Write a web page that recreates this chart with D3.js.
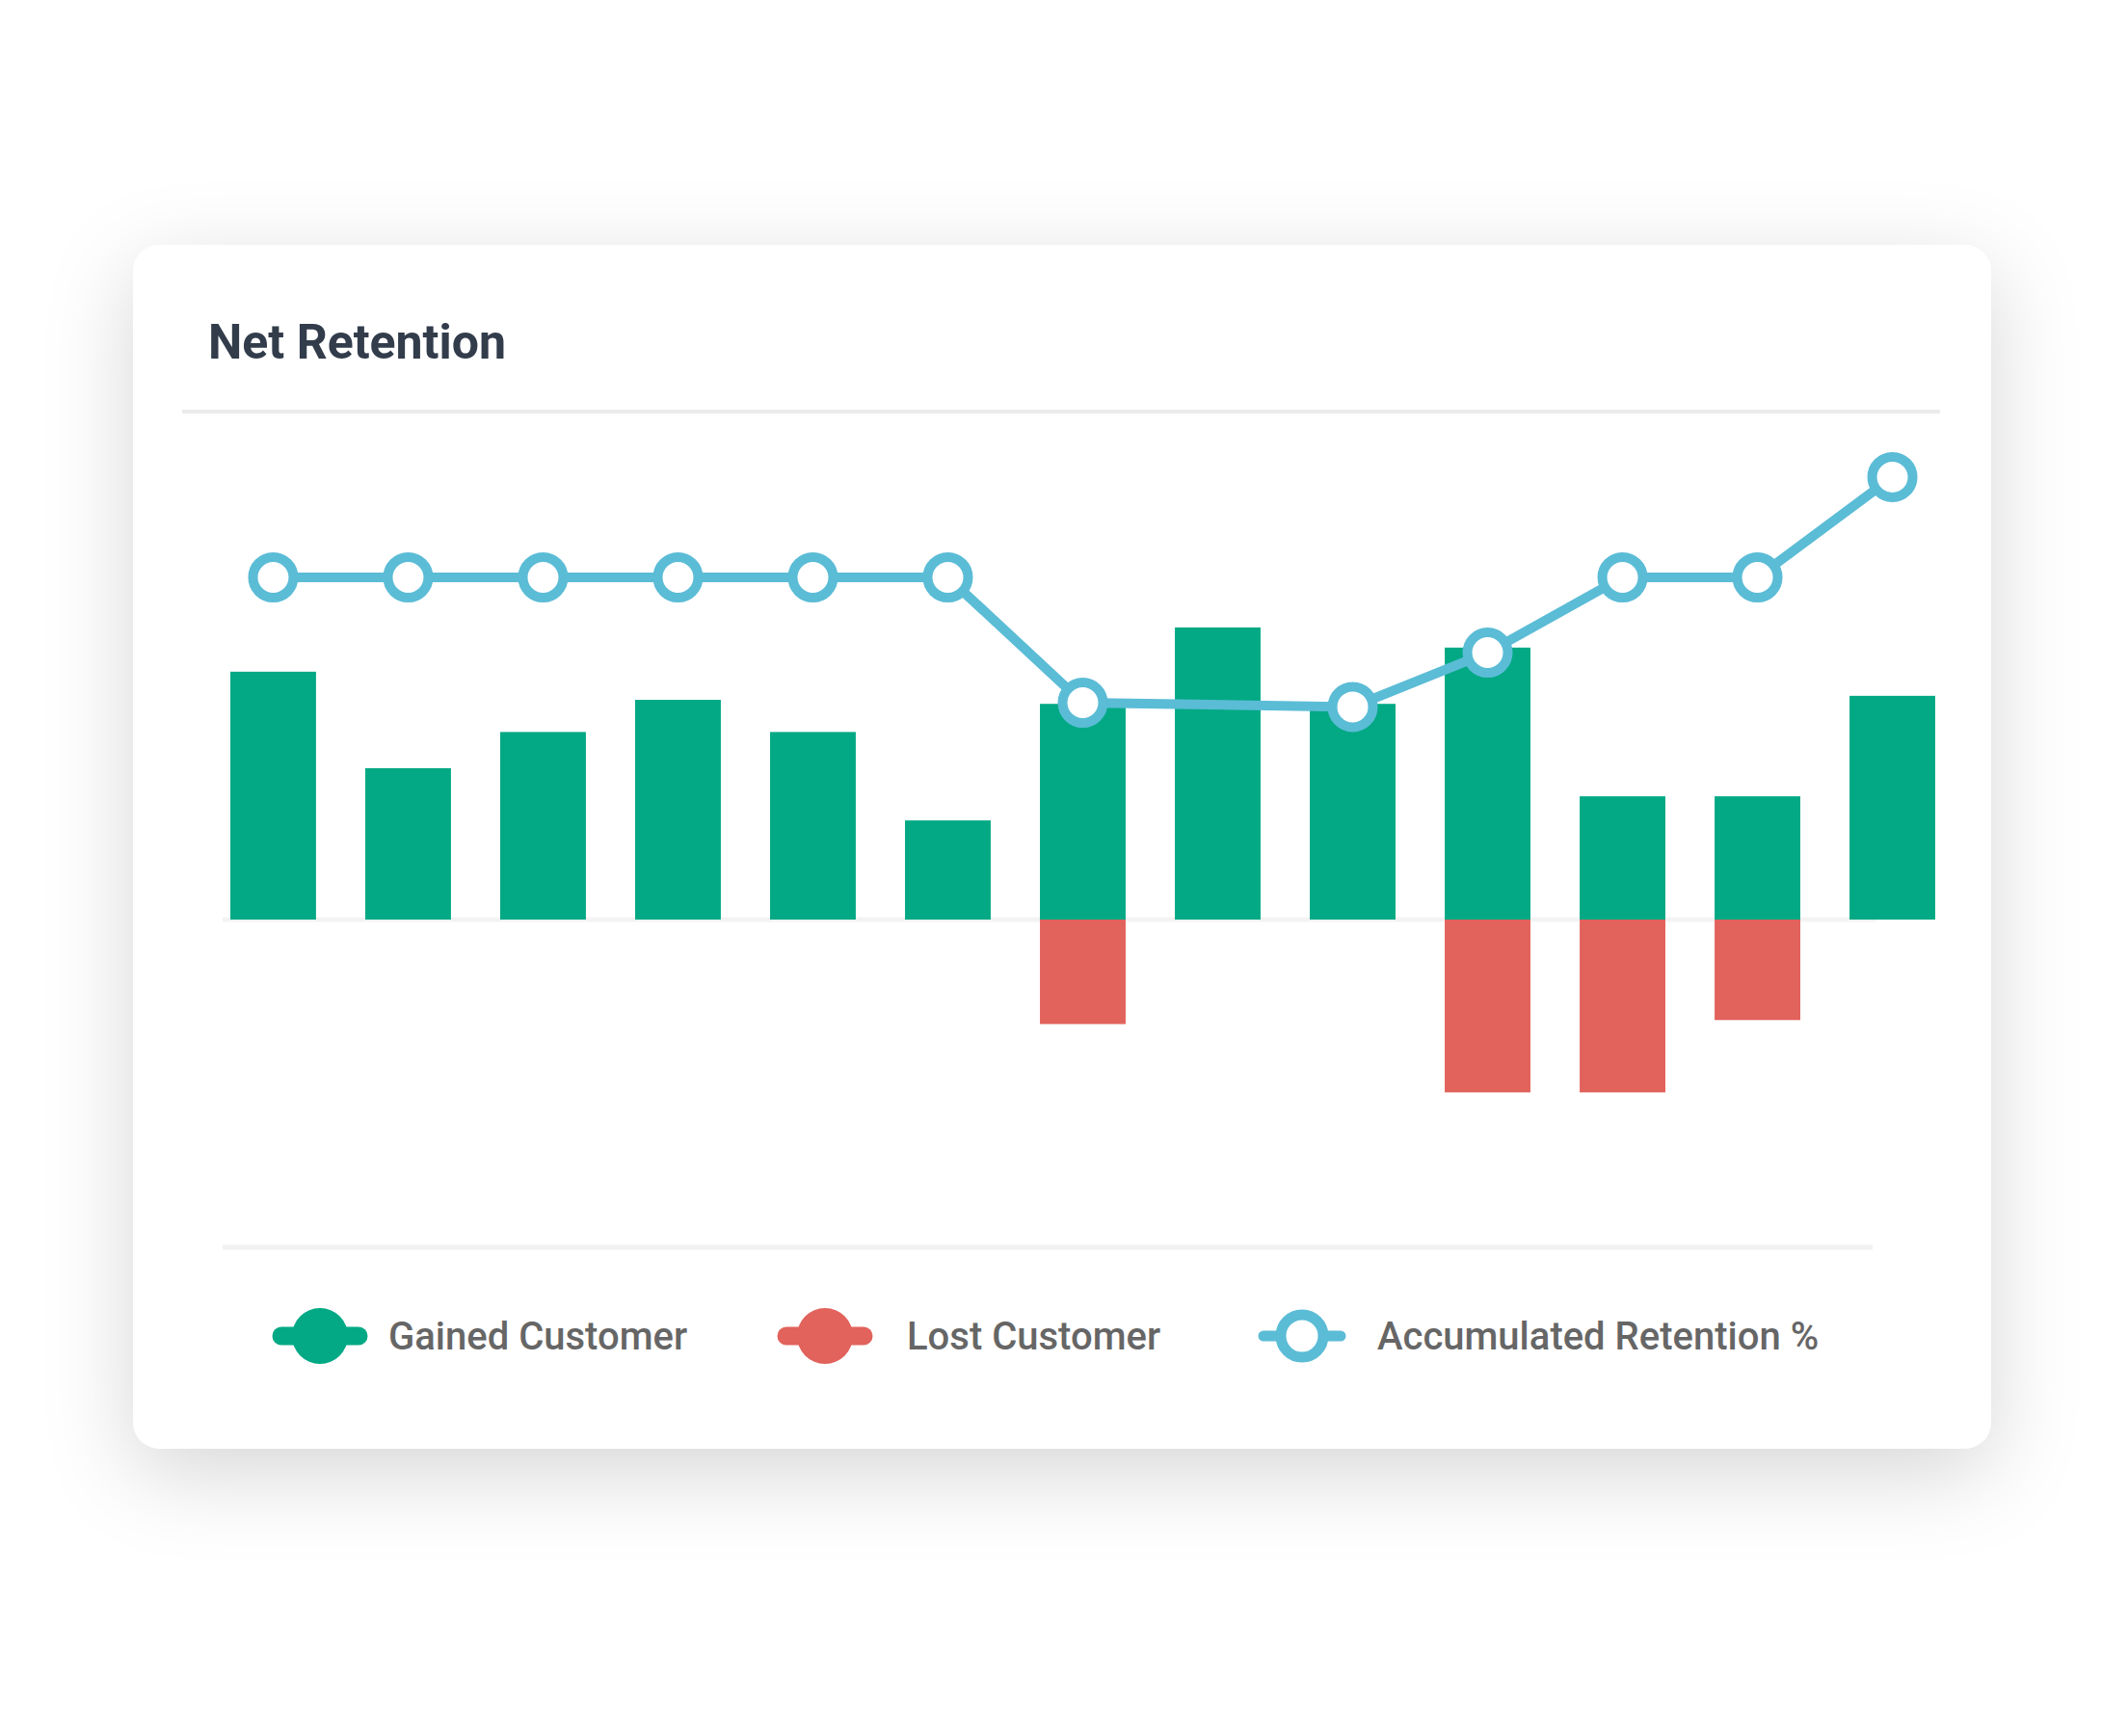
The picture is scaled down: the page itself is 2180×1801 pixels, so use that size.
<!DOCTYPE html>
<html><head><meta charset="utf-8">
<script src="https://cdn.jsdelivr.net/npm/d3@7"></script>
<style>body{margin:0;background:#fff}svg{display:block}</style>
</head><body><svg id="c" width="2180" height="1801"></svg>
<script>
const months = ["1","2","3","4","5","6","7","8","9","10","11","12","13"];
const gained = [185,113,140,164,140,74,161,218,161,203,92,92,167];
const lost = [0,0,0,0,0,0,78,0,0,129,129,75,0];
const retention = [80,80,80,80,80,80,65,null,64.5,71,80,80,92];
const legendLabels = ["Gained Customer","Lost Customer","Accumulated Retention %"];
const GREEN="#02a984", RED="#e2625c", BLUE="#5bbcd6";

const svg=d3.select("#c");
const defs=svg.append("defs");
const f=defs.append("filter").attr("id","sh").attr("x","-20%").attr("y","-20%").attr("width","140%").attr("height","150%");
f.append("feDropShadow").attr("dx",0).attr("dy",25).attr("stdDeviation",45).attr("flood-color","#000").attr("flood-opacity",0.16);
svg.append("rect").attr("x",138).attr("y",254).attr("width",1928).attr("height",1249).attr("rx",28).attr("fill","#fff").attr("filter","url(#sh)");

svg.append("text").attr("x",216).attr("y",372).text("Net Retention")
 .attr("font-family","Roboto, Helvetica, Arial, sans-serif").attr("font-weight",700).attr("font-size",50).attr("fill","#323c4b");
svg.append("line").attr("x1",189).attr("x2",2013).attr("y1",427).attr("y2",427).attr("stroke","#ebebeb").attr("stroke-width",4);

const x=d3.scaleBand().domain(months).range([239,2008]).paddingInner(0.365).paddingOuter(0.0);
const yb=d3.scaleLinear().domain([-150,250]).range([954+150*1.39,954-250*1.39]);
const yl=d3.scaleLinear().domain([0,100]).range([599+80*8.67,599-20*8.67]);

svg.append("line").attr("x1",231).attr("x2",1946).attr("y1",954).attr("y2",954).attr("stroke","#f3f3f3").attr("stroke-width",5);
svg.append("g").selectAll("rect").data(gained).join("rect")
 .attr("x",(d,i)=>x(months[i])).attr("width",x.bandwidth()).attr("y",d=>yb(d)).attr("height",d=>yb(0)-yb(d)).attr("fill",GREEN);
svg.append("g").selectAll("rect").data(lost).join("rect")
 .attr("x",(d,i)=>x(months[i])).attr("width",x.bandwidth()).attr("y",yb(0)).attr("height",d=>yb(-d)-yb(0)).attr("fill",RED);

const pts=retention.map((v,i)=>({v,cx:x(months[i])+x.bandwidth()/2})).filter(d=>d.v!=null);
svg.append("path").datum(pts).attr("d",d3.line().x(d=>d.cx).y(d=>yl(d.v)))
 .attr("fill","none").attr("stroke",BLUE).attr("stroke-width",10);
svg.append("g").selectAll("circle").data(pts).join("circle").attr("cx",d=>d.cx).attr("cy",d=>yl(d.v)).attr("r",21)
 .attr("fill","#fff").attr("stroke",BLUE).attr("stroke-width",10);

svg.append("line").attr("x1",231).attr("x2",1943).attr("y1",1294).attr("y2",1294).attr("stroke","#f1f1f1").attr("stroke-width",5);
const lg=svg.append("g");
const items=[{c:GREEN,cx:332,tx:403,ring:false},{c:RED,cx:856,tx:941,ring:false},{c:BLUE,cx:1351,tx:1429,ring:true}];
items.forEach((it,i)=>{
  const yy=1386;
  lg.append("line").attr("x1",it.cx-40).attr("x2",it.cx+40).attr("y1",yy).attr("y2",yy).attr("stroke",it.c).attr("stroke-width",it.ring?11:19).attr("stroke-linecap","round");
  if(it.ring) lg.append("circle").attr("cx",it.cx).attr("cy",yy).attr("r",22).attr("fill","#fff").attr("stroke",it.c).attr("stroke-width",11);
  else lg.append("circle").attr("cx",it.cx).attr("cy",yy).attr("r",29).attr("fill",it.c);
  lg.append("text").attr("x",it.tx).attr("y",yy+14).text(legendLabels[i])
   .attr("font-family","Roboto, Helvetica, Arial, sans-serif").attr("font-weight",500).attr("font-size",40).attr("fill","#666");
});
</script></body></html>
